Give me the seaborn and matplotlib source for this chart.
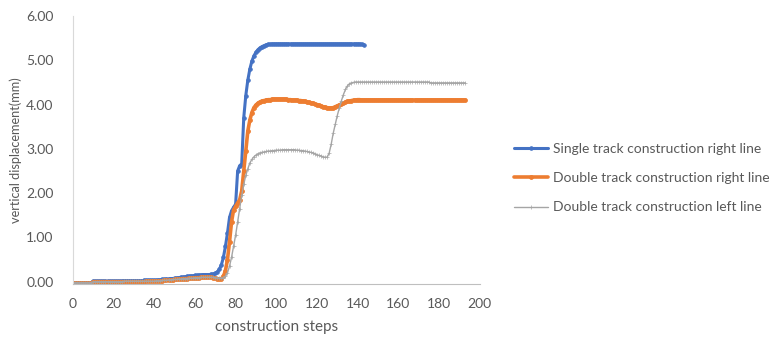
import numpy as np
import pandas as pd
import matplotlib
matplotlib.use("Agg")
import matplotlib.pyplot as plt
import seaborn as sns

# values, one per construction step
single_right = [
    -0.02, -0.02, -0.02, -0.02, -0.02, -0.02, -0.02, -0.02, -0.02, -0.02,
    0.01, 0.01, 0.01, 0.01, 0.01, 0.01, 0.01, 0.01, 0.01, 0.01,
    0.01, 0.01, 0.01, 0.01, 0.01, 0.02, 0.02, 0.02, 0.02, 0.02,
    0.02, 0.02, 0.02, 0.02, 0.02, 0.03, 0.03, 0.03, 0.03, 0.03,
    0.03, 0.03, 0.04, 0.04, 0.05, 0.05, 0.06, 0.06, 0.07, 0.07,
    0.08, 0.08, 0.09, 0.10, 0.10, 0.11, 0.12, 0.12, 0.13, 0.13,
    0.14, 0.14, 0.15, 0.15, 0.16, 0.16, 0.16, 0.16, 0.17, 0.17,
    0.19, 0.22, 0.28, 0.38, 0.55, 0.80, 1.10, 1.45, 1.60, 1.68,
    1.75, 2.50, 2.62, 2.66, 3.70, 4.20, 4.55, 4.80, 4.98, 5.10,
    5.18, 5.24, 5.28, 5.31, 5.33, 5.35, 5.36, 5.36, 5.37, 5.37,
    5.37, 5.37, 5.37, 5.37, 5.37, 5.37, 5.37, 5.37, 5.37, 5.37,
    5.37, 5.37, 5.37, 5.37, 5.37, 5.37, 5.37, 5.37, 5.37, 5.37,
    5.37, 5.37, 5.37, 5.37, 5.37, 5.37, 5.37, 5.37, 5.37, 5.37,
    5.37, 5.37, 5.37, 5.37, 5.37, 5.37, 5.37, 5.37, 5.37, 5.37,
    5.37, 5.37, 5.36, 5.35,
]

double_right = [
    -0.04, -0.04, -0.04, -0.04, -0.04, -0.04, -0.04, -0.04, -0.04, -0.04,
    0.00, 0.00, 0.00, 0.00, 0.00, 0.00, 0.00, 0.00, 0.00, 0.00,
    0.00, 0.00, 0.00, 0.00, 0.00, 0.00, 0.00, 0.00, 0.00, 0.00,
    0.00, 0.00, 0.00, 0.00, 0.00, 0.00, 0.01, 0.01, 0.01, 0.01,
    0.01, 0.01, 0.02, 0.02, 0.02, 0.03, 0.03, 0.03, 0.04, 0.04,
    0.05, 0.05, 0.06, 0.06, 0.07, 0.07, 0.07, 0.08, 0.08, 0.08,
    0.09, 0.09, 0.09, 0.10, 0.10, 0.10, 0.10, 0.10, 0.10, 0.09,
    0.08, 0.07, 0.06, 0.07, 0.12, 0.25, 0.50, 0.90, 1.35, 1.62,
    1.70, 1.78, 1.85, 2.05, 2.50, 2.95, 3.40, 3.65, 3.82, 3.93,
    3.99, 4.03, 4.06, 4.08, 4.09, 4.10, 4.11, 4.11, 4.12, 4.12,
    4.12, 4.12, 4.12, 4.12, 4.12, 4.12, 4.11, 4.11, 4.10, 4.10,
    4.10, 4.09, 4.09, 4.08, 4.07, 4.06, 4.05, 4.04, 4.03, 4.01,
    4.00, 3.98, 3.97, 3.95, 3.94, 3.93, 3.92, 3.92, 3.93, 3.95,
    3.97, 3.99, 4.01, 4.03, 4.05, 4.07, 4.08, 4.09, 4.10, 4.10,
    4.11, 4.11, 4.10, 4.10, 4.10, 4.10, 4.10, 4.10, 4.10, 4.10,
    4.10, 4.10, 4.10, 4.10, 4.10, 4.10, 4.10, 4.10, 4.10, 4.10,
    4.10, 4.10, 4.10, 4.10, 4.10, 4.10, 4.10, 4.10, 4.10, 4.10,
    4.10, 4.10, 4.10, 4.10, 4.10, 4.10, 4.10, 4.10, 4.10, 4.10,
    4.10, 4.10, 4.10, 4.10, 4.10, 4.10, 4.10, 4.10, 4.10, 4.10,
    4.10, 4.10, 4.10, 4.10,
]

double_left = [
    -0.02, -0.02, -0.02, -0.02, -0.02, -0.02, -0.02, -0.02, -0.02, -0.02,
    0.00, 0.00, 0.00, 0.00, 0.00, 0.00, 0.00, 0.00, 0.00, 0.00,
    0.00, 0.00, 0.00, 0.00, 0.00, 0.01, 0.01, 0.01, 0.01, 0.01,
    0.01, 0.01, 0.01, 0.01, 0.01, 0.01, 0.01, 0.01, 0.01, 0.01,
    0.01, 0.02, 0.02, 0.02, 0.03, 0.03, 0.03, 0.04, 0.04, 0.05,
    0.05, 0.05, 0.06, 0.06, 0.07, 0.07, 0.07, 0.08, 0.08, 0.08,
    0.09, 0.09, 0.09, 0.10, 0.10, 0.10, 0.10, 0.10, 0.10, 0.10,
    0.09, 0.08, 0.08, 0.08, 0.09, 0.12, 0.20, 0.35, 0.55, 0.80,
    1.05, 1.35, 1.65, 1.95, 2.20, 2.40, 2.55, 2.68, 2.76, 2.82,
    2.86, 2.89, 2.91, 2.92, 2.93, 2.94, 2.95, 2.95, 2.96, 2.96,
    2.97, 2.97, 2.97, 2.98, 2.98, 2.98, 2.98, 2.98, 2.98, 2.98,
    2.97, 2.97, 2.96, 2.96, 2.95, 2.94, 2.93, 2.92, 2.91, 2.89,
    2.87, 2.85, 2.84, 2.82, 2.81, 2.81, 2.90, 3.10, 3.35, 3.55,
    3.75, 3.92, 4.08, 4.22, 4.34, 4.42, 4.47, 4.49, 4.50, 4.51,
    4.51, 4.51, 4.51, 4.51, 4.51, 4.51, 4.51, 4.51, 4.51, 4.51,
    4.51, 4.51, 4.51, 4.51, 4.51, 4.51, 4.51, 4.51, 4.51, 4.51,
    4.51, 4.51, 4.51, 4.51, 4.51, 4.51, 4.51, 4.51, 4.51, 4.51,
    4.51, 4.51, 4.51, 4.51, 4.51, 4.51, 4.49, 4.49, 4.49, 4.49,
    4.49, 4.49, 4.49, 4.49, 4.49, 4.49, 4.49, 4.49, 4.49, 4.49,
    4.49, 4.49, 4.49, 4.49,
]

series_names = ["Single track construction right line",
                "Double track construction right line",
                "Double track construction left line"]
colors = ["#4472C4", "#ED7D31", "#A5A5A5"]
x_ticks = list(range(0, 201, 20))
y_ticks = [0, 1, 2, 3, 4, 5, 6]

sns.set_style("white")
plt.rcParams["font.family"] = ["Lato", "DejaVu Sans"]
text_color = "#595959"

frames = []
for name, vals in zip(series_names, [single_right, double_right, double_left]):
    frames.append(pd.DataFrame({"step": np.arange(len(vals)),
                                "disp": vals, "series": name}))
df = pd.concat(frames, ignore_index=True)

fig = plt.figure(figsize=(7.73, 3.40), dpi=100)
ax = fig.add_axes([0.0944, 0.165, 0.526, 0.788])

styles = [dict(lw=2.2, marker="o", ms=2.6, mew=0.6),
          dict(lw=2.6, marker="o", ms=2.8, mew=0.6),
          dict(lw=1.0, marker="+", ms=2.2, mew=0.5)]
for name, c, st in zip(series_names, colors, styles):
    sns.lineplot(data=df[df.series == name], x="step", y="disp", ax=ax,
                 color=c, linewidth=st["lw"], marker=st["marker"],
                 markersize=st["ms"], markeredgecolor=c, markerfacecolor=c,
                 markeredgewidth=st["mew"], label=name, legend=False)

ax.set_xlim(0, 200)
ax.set_ylim(-0.05, 6.0)
ax.set_xticks(x_ticks)
ax.set_yticks(y_ticks)
ax.set_yticklabels([f"{v:.2f}" for v in y_ticks])
ax.tick_params(axis="both", length=0, labelsize=10, colors=text_color)
ax.tick_params(axis="y", pad=14)
ax.tick_params(axis="x", pad=10)
ax.set_xlabel("construction steps", fontsize=11, color=text_color,
              labelpad=7)
ax.set_ylabel("vertical displacement(mm)", fontsize=9.2, color=text_color,
              labelpad=3)
for s in ["top", "right"]:
    ax.spines[s].set_visible(False)
ax.spines["left"].set_color("#D9D9D9")
ax.spines["bottom"].set_color("#BFBFBF")

handles, labels = ax.get_legend_handles_labels()
leg = ax.legend(handles, labels, loc="center left",
                bbox_to_anchor=(1.055, 0.395), frameon=False, fontsize=10,
                handlelength=2.4, handletextpad=0.4, labelspacing=1.25,
                labelcolor=text_color)

fig.savefig("out.png", dpi=100)
